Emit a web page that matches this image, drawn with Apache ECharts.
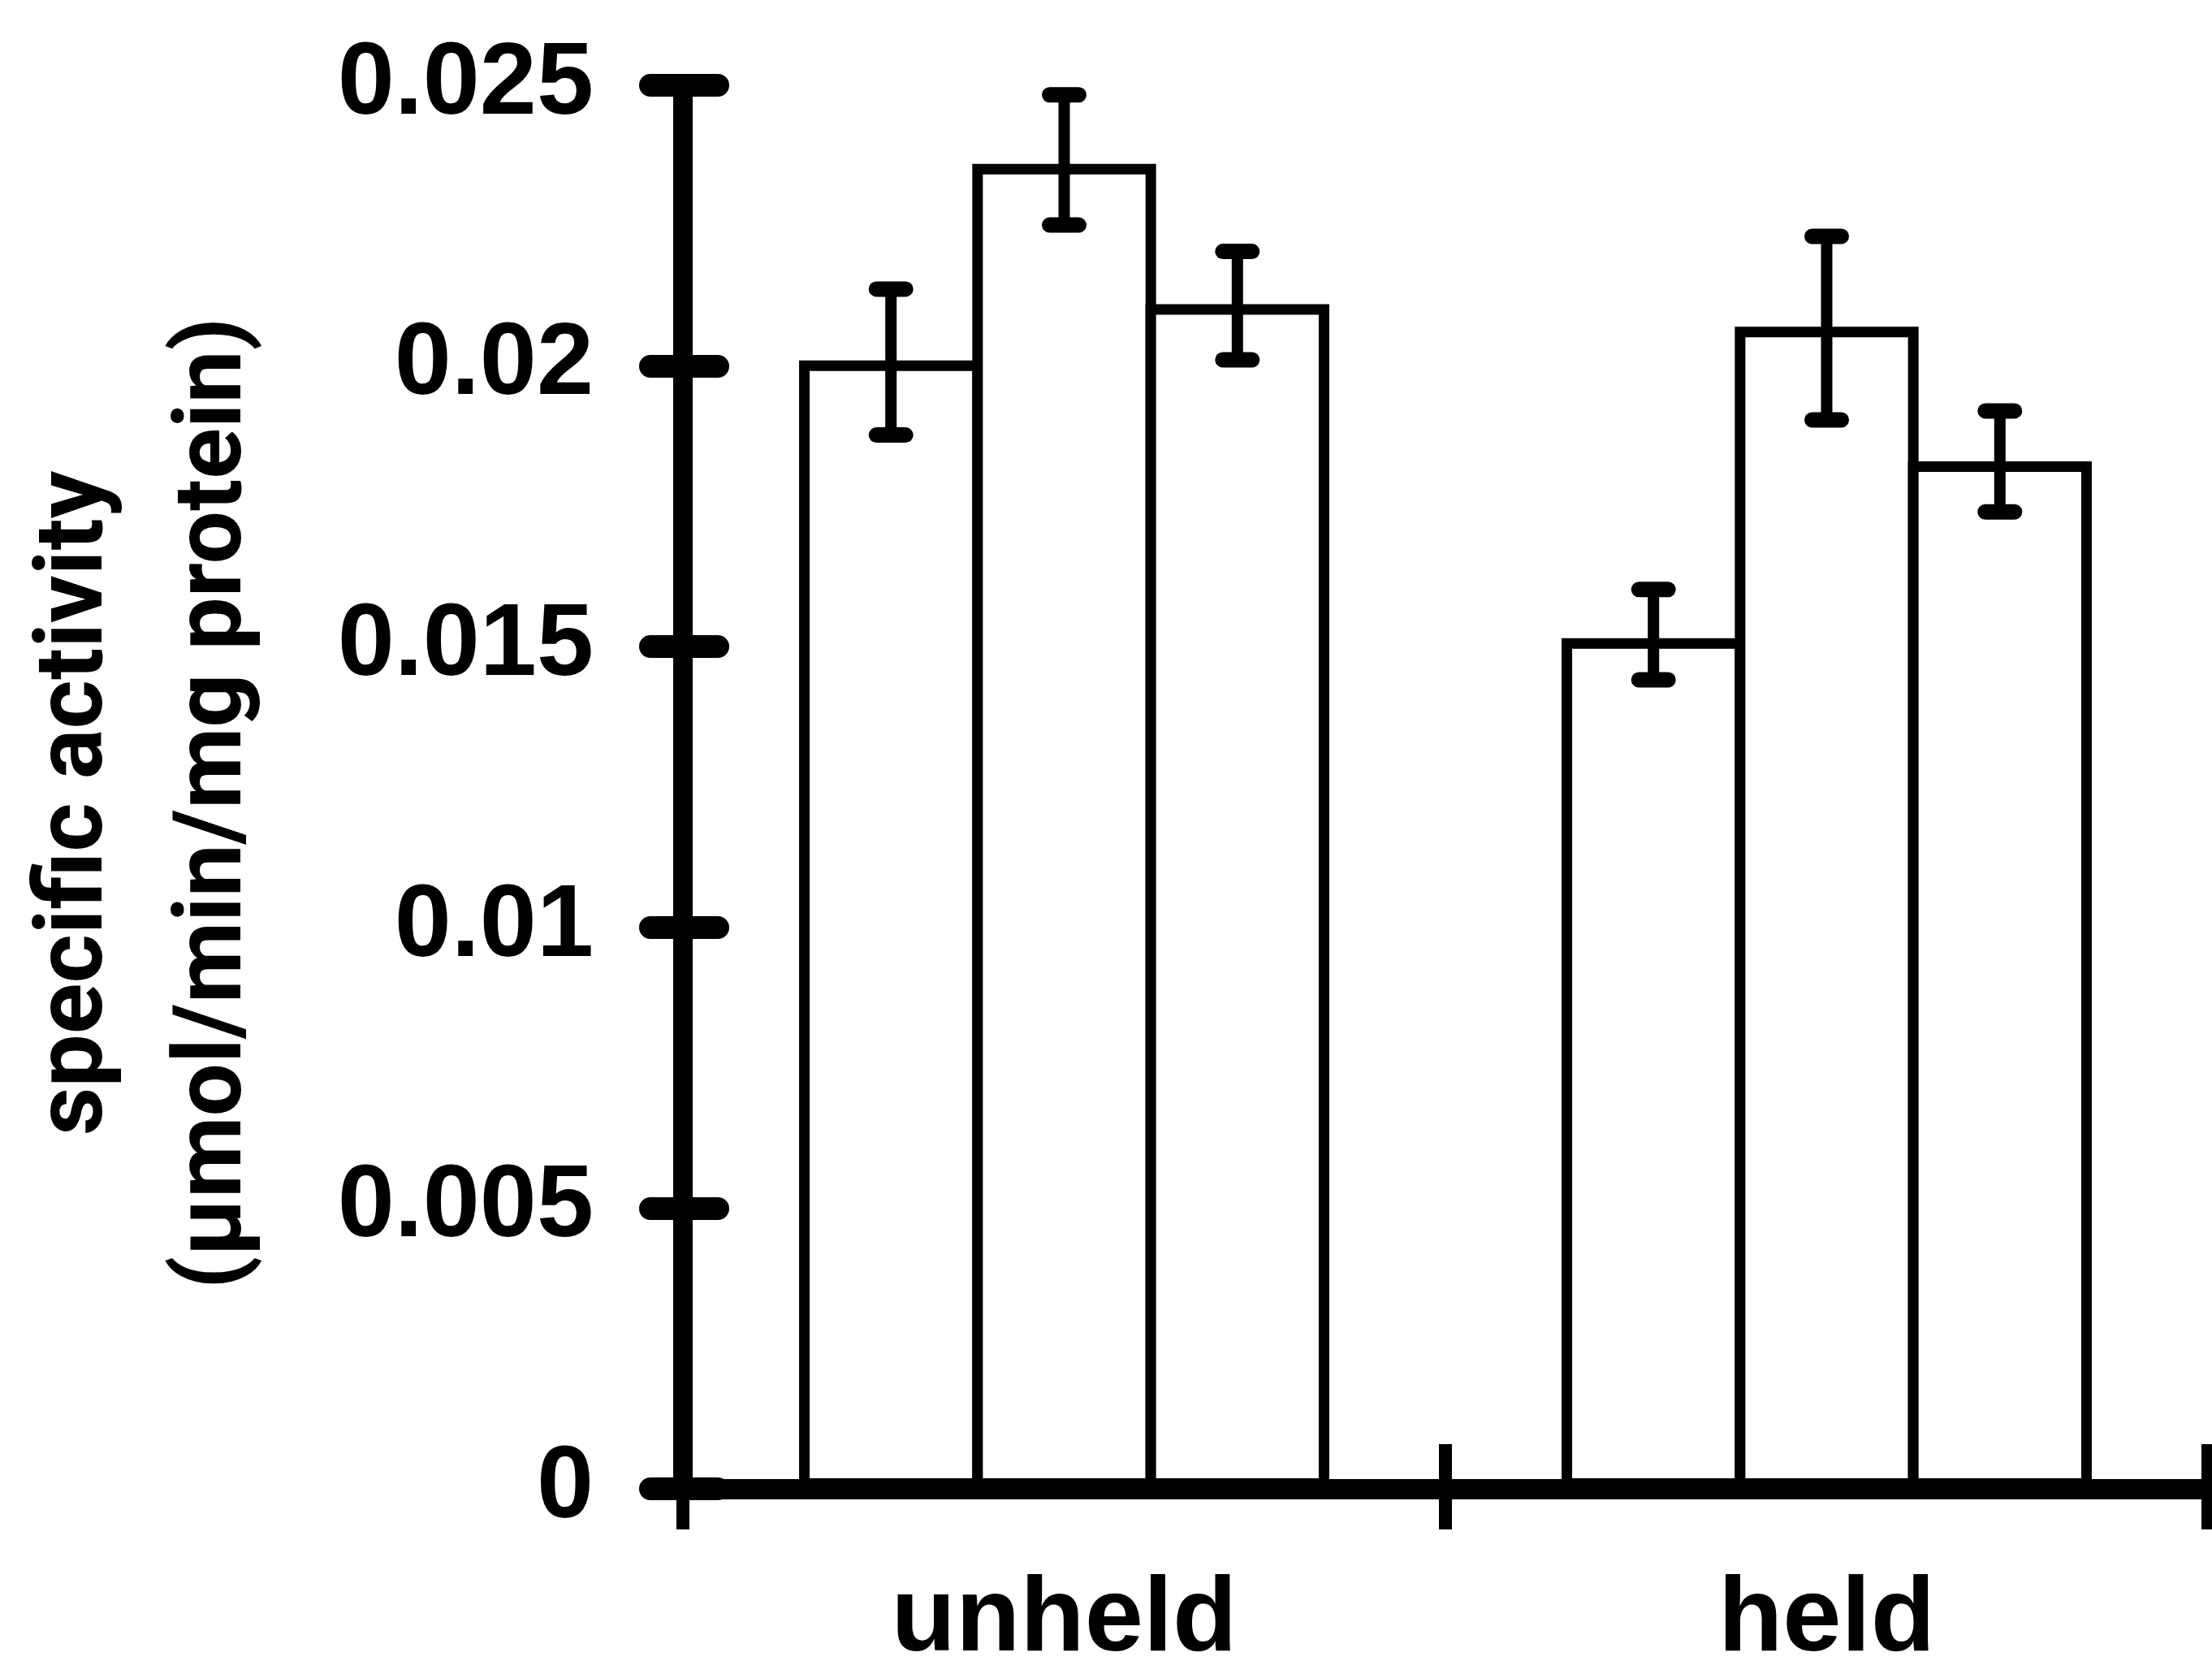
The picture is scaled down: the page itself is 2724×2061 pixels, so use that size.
<!DOCTYPE html>
<html>
<head>
<meta charset="utf-8">
<script src="https://cdn.jsdelivr.net/npm/echarts@6/dist/echarts.min.js"></script>
<style>
  html, body { margin: 0; padding: 0; background: #fff; }
  #chart { width: 2724px; height: 2061px; }
</style>
</head>
<body>
<div id="chart"></div>
<script>
// categories and values
const categories = ['unheld', 'held'];
const yTickLabels = ['0', '0.005', '0.01', '0.015', '0.02', '0.025'];

const bar1 = [0.0201, 0.01515];
const bar2 = [0.0236, 0.0207];
const bar3 = [0.0211, 0.0183];

// error bar ends (low / high)
const bar1Low = [0.01877, 0.01441];
const bar1High = [0.02137, 0.01602];
const bar2Low = [0.02251, 0.01904];
const bar2High = [0.02483, 0.02231];
const bar3Low = [0.02011, 0.0174];
const bar3High = [0.02204, 0.0192];

const BORDER = 13;
const BAR_FRAC = 0.241;   // bar width as part of the category band (border included)
const BAR_GAP = -BORDER / (0.241 * 939) * 100;  // neighbours share one border line
const font = "'Liberation Sans', Arial, Helvetica, sans-serif";
const nameFont = "Roboto, 'Liberation Sans', Arial, sans-serif";

const chart = echarts.init(document.getElementById('chart'));

// error bars for the bar at position pos (0,1,2) inside each category
function errorSeries(pos, low, high) {
  return {
    type: 'custom',
    z: 5,
    silent: true,
    data: categories.map((c, i) => [i, low[i], high[i]]),
    renderItem: function (params, api) {
      const band = api.size([1, 0])[0];
      const step = band * BAR_FRAC - BORDER;  // distance between bar centres
      const off = (pos - 1) * step;
      const hi = api.coord([api.value(0), api.value(2)]);
      const lo = api.coord([api.value(0), api.value(1)]);
      const x = hi[0] + off;
      const capStyle = { stroke: '#000', lineWidth: 19, lineCap: 'round' };
      return {
        type: 'group',
        children: [
          { type: 'line', shape: { x1: x, y1: hi[1], x2: x, y2: lo[1] }, style: { stroke: '#000', lineWidth: 14 } },
          { type: 'line', shape: { x1: x - 18, y1: hi[1], x2: x + 18, y2: hi[1] }, style: capStyle },
          { type: 'line', shape: { x1: x - 18, y1: lo[1], x2: x + 18, y2: lo[1] }, style: capStyle }
        ]
      };
    }
  };
}

function barSeries(name, values) {
  return {
    name: name,
    type: 'bar',
    data: values,
    barWidth: (BAR_FRAC * 100) + '%',
    barGap: BAR_GAP + '%',
    itemStyle: { color: '#fff', borderColor: '#000', borderWidth: BORDER },
    emphasis: { disabled: true }
  };
}

const option = {
  backgroundColor: '#fff',
  animation: false,
  grid: { left: 841, right: 5, top: 105, bottom: 218 },
  xAxis: [
    {
      type: 'category',
      data: categories,
      position: 'bottom',
      axisLine: { show: true, lineStyle: { color: '#000', width: 25 } },
      axisTick: { show: true, inside: false, length: 50, lineStyle: { color: '#000', width: 16 } },
      axisLabel: {
        color: '#000', fontSize: 130, fontWeight: 'bold', fontFamily: font, margin: 98
      },
      splitLine: { show: false }
    },
    {
      // same axis again, only for the ticks that point inwards
      type: 'category',
      data: categories,
      position: 'bottom',
      axisLine: { show: false },
      axisTick: { show: true, inside: true, length: 55, lineStyle: { color: '#000', width: 16 } },
      axisLabel: { show: false },
      splitLine: { show: false }
    }
  ],
  yAxis: [
    {
      type: 'value',
      min: 0,
      max: 0.025,
      interval: 0.005,
      position: 'left',
      axisLine: { show: true, lineStyle: { color: '#000', width: 24 } },
      axisTick: { show: true, inside: false, length: 40, lineStyle: { color: '#000', width: 28, cap: 'round' } },
      axisLabel: {
        color: '#000', fontSize: 126, fontWeight: 'bold', fontFamily: font, margin: 110,
        formatter: v => yTickLabels[Math.round(v / 0.005)]
      },
      splitLine: { show: false },
      name: 'specific activity\n(\u00b5mol/min/mg protein)',
      nameLocation: 'middle',
      nameGap: 489,
      nameTextStyle: {
        color: '#000', fontSize: 116, fontWeight: 'bold', fontFamily: nameFont,
        lineHeight: 171, padding: [0, 40, 0, 0]
      }
    },
    {
      type: 'value',
      min: 0,
      max: 0.025,
      interval: 0.005,
      position: 'left',
      axisLine: { show: false },
      axisTick: { show: true, inside: true, length: 43, lineStyle: { color: '#000', width: 28, cap: 'round' } },
      axisLabel: { show: false },
      splitLine: { show: false }
    }
  ],
  series: [
    barSeries('bar 1', bar1),
    barSeries('bar 2', bar2),
    barSeries('bar 3', bar3),
    errorSeries(0, bar1Low, bar1High),
    errorSeries(1, bar2Low, bar2High),
    errorSeries(2, bar3Low, bar3High)
  ]
};

chart.setOption(option);
</script>
</body>
</html>
